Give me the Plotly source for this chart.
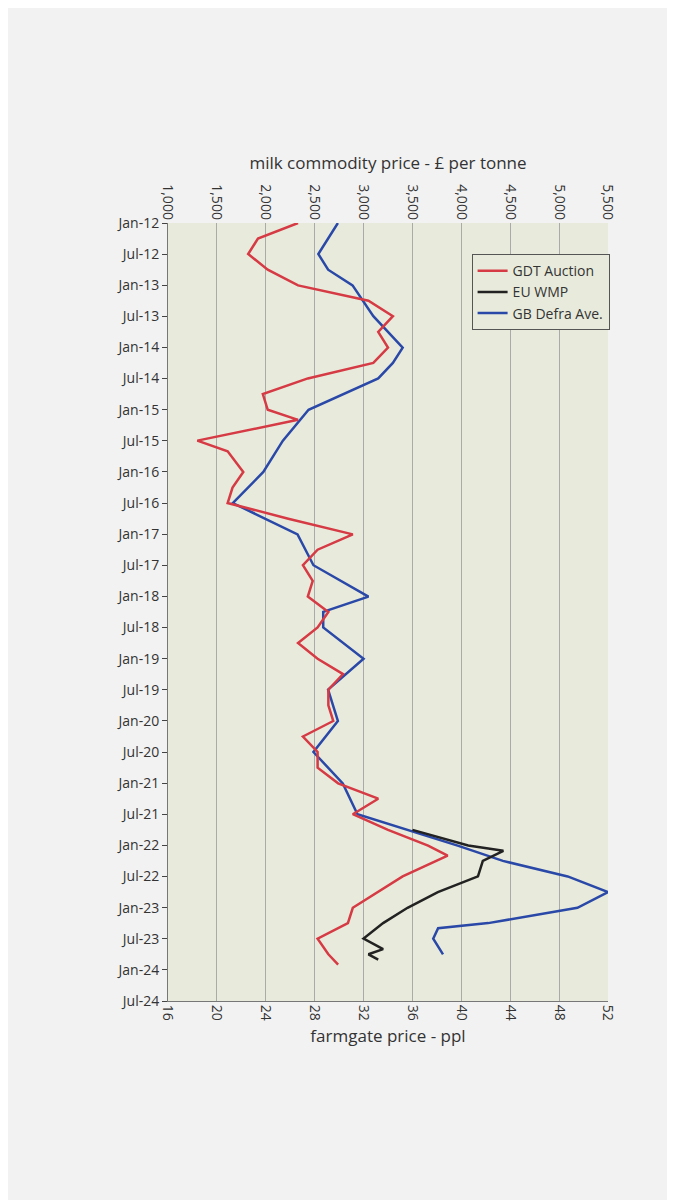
import plotly.graph_objects as go

gdt_dates = ["2012-01","2012-04","2012-07","2012-10","2013-01","2013-04","2013-07","2013-10","2014-01","2014-04","2014-07","2014-10","2015-01","2015-03","2015-07","2015-09","2016-01","2016-04","2016-07","2016-10","2017-01","2017-04","2017-07","2017-10","2018-01","2018-04","2018-07","2018-10","2019-01","2019-04","2019-07","2019-10","2020-01","2020-04","2020-07","2020-10","2021-01","2021-04","2021-07","2021-10","2022-01","2022-03","2022-07","2022-10","2023-01","2023-04","2023-07","2023-10","2023-12"]
gdt_vals = [2330,1920,1820,2020,2330,3050,3300,3150,3250,3100,2430,1970,2020,2330,1300,1610,1770,1660,1610,2230,2890,2530,2380,2480,2430,2640,2530,2330,2530,2790,2640,2640,2690,2380,2530,2530,2740,3150,2890,3250,3660,3860,3400,3150,2890,2840,2530,2640,2740]

wmp_dates = ["2021-10","2022-01","2022-02","2022-04","2022-07","2022-10","2023-01","2023-04","2023-07","2023-09","2023-10","2023-11"]
wmp_vals = [3500,4070,4430,4220,4170,3760,3450,3200,3000,3200,3050,3150]

defra_dates = ["2012-01","2012-07","2012-10","2013-01","2013-07","2014-01","2014-04","2014-07","2015-01","2015-07","2016-01","2016-07","2017-01","2017-07","2018-01","2018-04","2018-07","2019-01","2019-07","2020-01","2020-07","2021-01","2021-07","2021-10","2022-01","2022-04","2022-07","2022-10","2023-01","2023-04","2023-05","2023-07","2023-10"]
defra_vals = [29.9,28.3,29.1,31.1,32.8,35.2,34.4,33.2,27.5,25.4,23.8,21.3,26.6,27.9,32.4,28.7,28.7,32.0,29.1,29.9,27.9,30.3,31.5,35.6,39.7,43.4,48.7,52.0,49.5,42.2,38.1,37.7,38.5]

fig = go.Figure()
fig.add_trace(go.Scatter(x=gdt_vals, y=gdt_dates, name="GDT Auction", mode="lines",
                         line=dict(color="#d63a44", width=2.5), xaxis="x2"))
fig.add_trace(go.Scatter(x=wmp_vals, y=wmp_dates, name="EU WMP", mode="lines",
                         line=dict(color="#222222", width=2.5), xaxis="x2"))
fig.add_trace(go.Scatter(x=defra_vals, y=defra_dates, name="GB Defra Ave.", mode="lines",
                         line=dict(color="#2a48a8", width=2.5)))

fig.update_layout(
    width=675, height=1200, paper_bgcolor="#f2f2f2", plot_bgcolor="#e8ebdb",
    margin=dict(l=160, r=75, t=215, b=207),
    font=dict(family="Open Sans", color="#333", size=14),
    xaxis=dict(range=[16, 52], dtick=4, side="bottom", showgrid=True, gridcolor="#aaaaaa",
               tickangle=90, title=dict(text="farmgate price - ppl", standoff=10),
               showline=True, linecolor="#777"),
    xaxis2=dict(range=[1000, 5500], dtick=500, overlaying="x", side="top", showgrid=False,
                tickformat=",", tickangle=90,
                title=dict(text="milk commodity price - £ per tonne", standoff=10)),
    yaxis=dict(range=["2024-07-01", "2012-01-01"], dtick="M6", tick0="2012-01-01",
               tickformat="%b-%y", showgrid=False, ticks="outside", showline=True, linecolor="#777"),
    legend=dict(x=0.69, y=0.96, xanchor="left", yanchor="top", bgcolor="#e8ebdb",
                bordercolor="#555", borderwidth=1, font=dict(size=14)),
)
fig.write_html("out.html")
